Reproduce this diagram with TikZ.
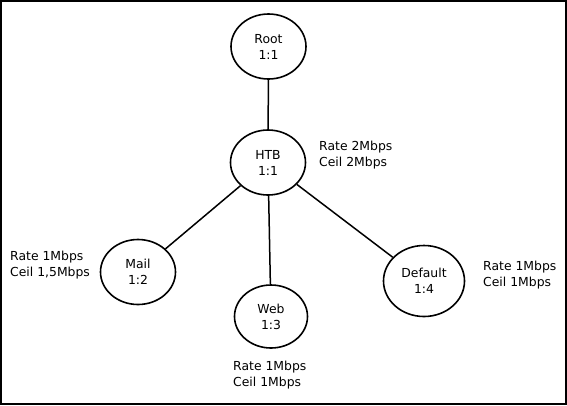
\documentclass[tikz,border=0pt]{standalone}
\usepackage{fontspec}
\setmainfont{DejaVu Sans}
\usetikzlibrary{shapes.geometric}
\begin{document}
\begin{tikzpicture}[x=1pt,y=-1pt,
		class/.style={draw, ellipse, line width=1.6pt, inner sep=0pt, align=center,
			font=\fontsize{12.4}{16}\selectfont},
		rate/.style={anchor=west, inner sep=0pt, align=left,
			font=\fontsize{12.4}{16}\selectfont}]
		\draw [line width=2pt] (1,1) rectangle (566,404);
		% classes
		\node (root) [class, minimum width=75pt, minimum height=65pt] at (268.5,46.5) {Root\\1:1};
		\node (htb) [class, minimum width=75pt, minimum height=65pt] at (268,162.5) {HTB\\1:1};
		\node (mail) [class, minimum width=75pt, minimum height=65pt] at (138,272) {Mail\\1:2};
		\node (web) [class, minimum width=73pt, minimum height=63pt] at (271,316.5) {Web\\1:3};
		\node (default) [class, minimum width=81pt, minimum height=71pt] at (424,281) {Default\\1:4};
		% rates
		\node (htbrate) [rate] at (319,155) {Rate 2Mbps\\Ceil 2Mbps};
		\node (mailrate) [rate] at (10,265) {Rate 1Mbps\\Ceil 1,5Mbps};
		\node (webrate) [rate] at (233,375) {Rate 1Mbps\\Ceil 1Mbps};
		\node (defaultrate) [rate] at (483,275) {Rate 1Mbps\\Ceil 1Mbps};
		% links
		\draw [line width=1.5pt] (root) -- (htb);
		\draw [line width=1.5pt] (htb) -- (mail);
		\draw [line width=1.5pt] (htb) -- (web);
		\draw [line width=1.5pt] (htb) -- (default);
	\end{tikzpicture}
\end{document}
